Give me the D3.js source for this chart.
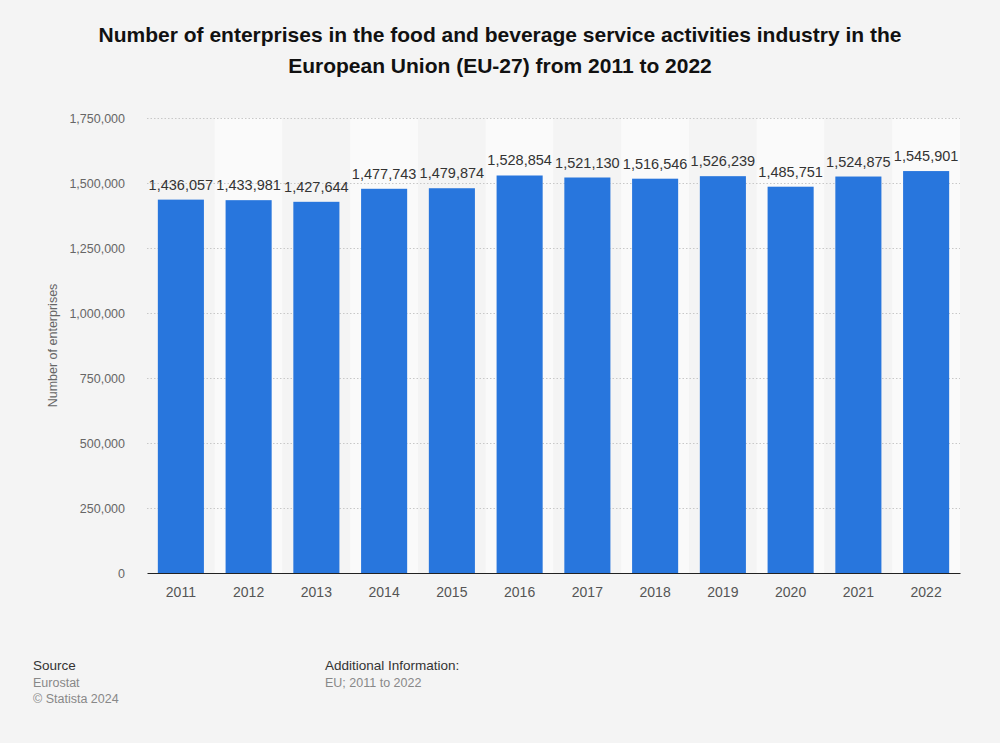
<!DOCTYPE html>
<html><head><meta charset="utf-8">
<script src="https://cdn.jsdelivr.net/npm/d3@7"></script>
<style>
body{margin:0;background:#f4f4f4;font-family:"Liberation Sans",Arial,sans-serif;}
svg{display:block;}
</style></head><body>
<svg id="c" width="1000" height="743"></svg>
<script>
const years = ["2011","2012","2013","2014","2015","2016","2017","2018","2019","2020","2021","2022"];
const enterprises = [1436057,1433981,1427644,1477743,1479874,1528854,1521130,1516546,1526239,1485751,1524875,1545901];
const yTicks = [0,250000,500000,750000,1000000,1250000,1500000,1750000];
const titleLines = ["Number of enterprises in the food and beverage service activities industry in the","European Union (EU-27) from 2011 to 2022"];

const svg = d3.select("#c");
const W=1000,H=743;
svg.append("rect").attr("width",W).attr("height",H).attr("fill","#f4f4f4");
const m={l:147,r:960,t:118,b:573};
const x=d3.scaleBand().domain(years).range([m.l,m.r]).paddingInner(0.32).paddingOuter(0.16);
const xb=d3.scaleBand().domain(years).range([m.l,m.r]).padding(0);
const y=d3.scaleLinear().domain([0,1750000]).range([m.b,m.t]);
const fmt=d3.format(",");

// bands
svg.append("g").selectAll("rect").data(years).join("rect")
 .attr("x",d=>xb(d)).attr("width",xb.bandwidth()).attr("y",m.t).attr("height",m.b-m.t)
 .attr("fill",(d,i)=>i%2?"#fafafa":"#f4f4f4");

// grid
const ga=svg.append("g").attr("transform",`translate(${m.l},0)`)
 .call(d3.axisLeft(y).tickValues(yTicks).tickSize(-(m.r-m.l)).tickFormat(fmt).tickPadding(22));
ga.select(".domain").remove();
ga.selectAll(".tick line").attr("stroke","#c8c8c8").attr("stroke-dasharray","1.5,2").attr("stroke-width",1)
 .filter(d=>d===0).remove();
ga.selectAll(".tick text").attr("fill","#666").attr("font-size","12.5px").attr("font-family","Liberation Sans, Arial, sans-serif");

// bars
svg.append("g").selectAll("rect").data(years).join("rect")
 .attr("x",d=>x(d)).attr("width",x.bandwidth())
 .attr("y",(d,i)=>y(enterprises[i])).attr("height",(d,i)=>y(0)-y(enterprises[i]))
 .attr("fill","#2876dd");

// value labels
svg.append("g").selectAll("text").data(years).join("text")
 .attr("x",d=>x(d)+x.bandwidth()/2).attr("y",(d,i)=>y(enterprises[i])-10)
 .attr("text-anchor","middle").attr("font-size","14.5px").attr("fill","#333")
 .text((d,i)=>fmt(enterprises[i]));

// x axis
const xa=svg.append("g").attr("transform",`translate(0,${m.b})`).call(d3.axisBottom(xb).tickSize(0).tickPadding(14));
xa.select(".domain").attr("stroke","#222").attr("stroke-width",1.2);
xa.selectAll(".tick text").attr("fill","#555").attr("font-size","14px").attr("font-family","Liberation Sans, Arial, sans-serif");

// y title
svg.append("text").attr("transform",`translate(57,${(m.t+m.b)/2}) rotate(-90)`)
 .attr("text-anchor","middle").attr("font-size","12.5px").attr("fill","#666").text("Number of enterprises");

// title
svg.append("g").selectAll("text").data(titleLines).join("text")
 .attr("x",500).attr("y",(d,i)=>42+i*31).attr("text-anchor","middle")
 .attr("font-size","21px").attr("font-weight","bold").attr("fill","#111").text(d=>d);

// footer
const f=svg.append("g").attr("font-size","12.5px");
f.append("text").attr("x",33).attr("y",670).attr("fill","#333").attr("font-size","13.5px").text("Source");
f.append("text").attr("x",33).attr("y",687).attr("fill","#888").text("Eurostat");
f.append("text").attr("x",33).attr("y",703).attr("fill","#888").text("© Statista 2024");
f.append("text").attr("x",325).attr("y",670).attr("fill","#333").attr("font-size","13.5px").text("Additional Information:");
f.append("text").attr("x",325).attr("y",687).attr("fill","#888").text("EU; 2011 to 2022");
</script></body></html>
